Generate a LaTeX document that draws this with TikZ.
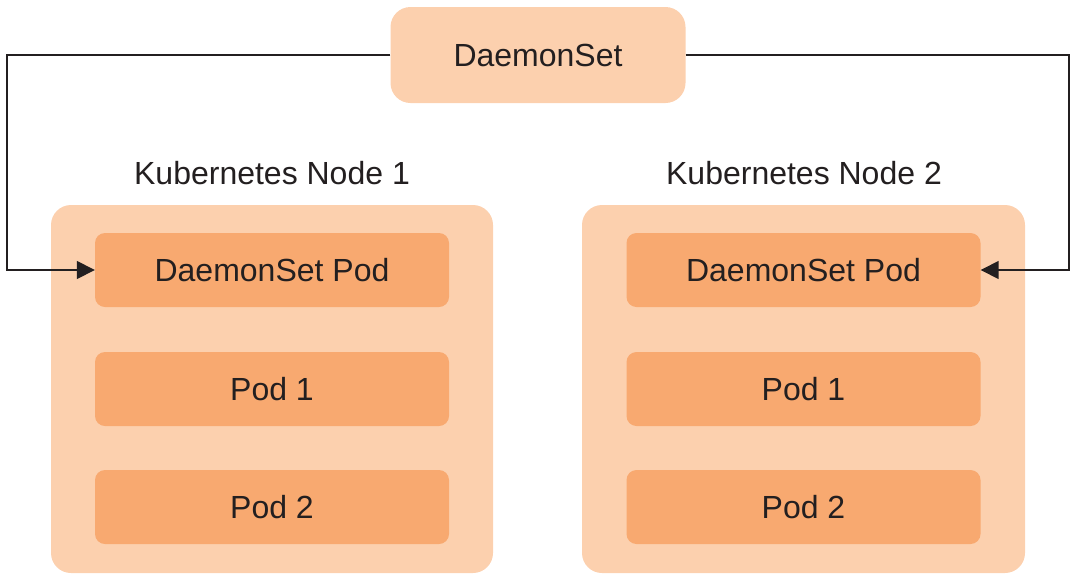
\documentclass[tikz,border=0pt]{standalone}
\usepackage{fontspec}
\setmainfont{Liberation Sans}
\usetikzlibrary{arrows.meta}
\definecolor{outerc}{HTML}{FCD0AE}
\definecolor{innerc}{HTML}{F8A970}
\definecolor{txtc}{HTML}{231F20}
\tikzset{
  outerbox/.style={fill=outerc, draw=none, rounded corners=20pt},
  innerbox/.style={fill=innerc, draw=none, rounded corners=10pt, font=\fontsize{32}{38}\selectfont, text=txtc},
  lbl/.style={font=\fontsize{32}{38}\selectfont, text=txtc},
  conn/.style={draw=txtc, line width=1.6pt, -{Triangle[length=18pt,width=18pt]}},
}
\begin{document}
\begin{tikzpicture}[x=1pt,y=-1pt]
\useasboundingbox (0,0) rectangle (1076,579);
% outer node boxes
\path[outerbox] (51,205) rectangle (493,573);
\path[outerbox] (582,205) rectangle (1025,573);
% DaemonSet
\node[outerbox, lbl, minimum width=295pt, minimum height=96pt, inner sep=0pt] (ds) at (538,55) {DaemonSet};
% labels
\node[lbl] (k1) at (272,173) {Kubernetes Node 1};
\node[lbl] (k2) at (804,173) {Kubernetes Node 2};
% inner boxes
\foreach \n/\cx in {1/272, 2/803.5}{
  \node[innerbox, minimum width=354pt, minimum height=74pt, inner sep=0pt] (dp\n) at (\cx,270) {DaemonSet Pod};
  \node[innerbox, minimum width=354pt, minimum height=74pt, inner sep=0pt] (pa\n) at (\cx,389) {Pod 1};
  \node[innerbox, minimum width=354pt, minimum height=74pt, inner sep=0pt] (pb\n) at (\cx,507) {Pod 2};
}
\coordinate (l1) at (7,55);
\coordinate (l2) at (7,270);
\coordinate (r1) at (1069,55);
\coordinate (r2) at (1069,270);
\draw[conn] (ds.west) -- (l1) -- (l2) -- (dp1.west);
\draw[conn] (ds.east) -- (r1) -- (r2) -- (dp2.east);
\end{tikzpicture}
\end{document}
